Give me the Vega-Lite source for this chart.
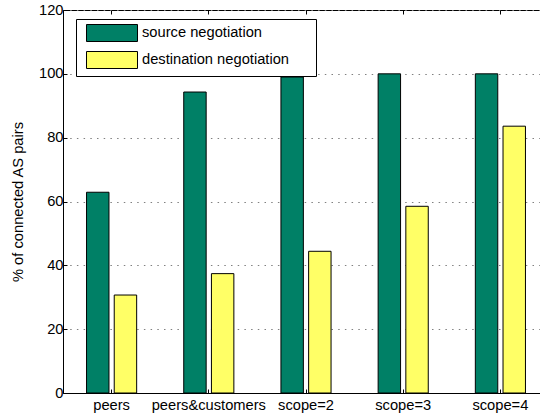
{
  "$schema": "https://vega.github.io/schema/vega-lite/v6.json",
  "autosize": "none",
  "width": 477,
  "height": 383,
  "padding": {"left": 63, "top": 10, "right": 0, "bottom": 22},
  "background": "white",
  "data": {
    "values": [
      {"category": "peers", "series": "source negotiation", "value": 62.9},
      {"category": "peers", "series": "destination negotiation", "value": 30.7},
      {"category": "peers&customers", "series": "source negotiation", "value": 94.3},
      {"category": "peers&customers", "series": "destination negotiation", "value": 37.4},
      {"category": "scope=2", "series": "source negotiation", "value": 99.0},
      {"category": "scope=2", "series": "destination negotiation", "value": 44.4},
      {"category": "scope=3", "series": "source negotiation", "value": 100},
      {"category": "scope=3", "series": "destination negotiation", "value": 58.5},
      {"category": "scope=4", "series": "source negotiation", "value": 100},
      {"category": "scope=4", "series": "destination negotiation", "value": 83.6}
    ]
  },
  "layer": [
    {
      "mark": {"type": "bar", "stroke": "black", "strokeWidth": 1},
      "encoding": {
        "x": {
          "field": "category", "type": "nominal", "sort": null,
          "scale": {"range": [0, 486], "paddingInner": 0, "paddingOuter": 0},
          "axis": {"orient": "bottom", "title": null, "labelAngle": 0, "tickSize": -4, "labelPadding": 8, "grid": false}
        },
        "xOffset": {
          "field": "series", "type": "nominal",
          "sort": ["source negotiation", "destination negotiation"],
          "scale": {"paddingInner": 0.19, "paddingOuter": 0.85}
        },
        "y": {
          "field": "value", "type": "quantitative",
          "scale": {"domain": [0, 120], "nice": false},
          "axis": {"title": "% of connected AS pairs", "values": [0, 20, 40, 60, 80, 100, 120], "tickSize": -4, "labelPadding": 4, "grid": true, "gridColor": "#808080", "gridDash": [1.5, 5.2], "gridWidth": 1, "titlePadding": 13}
        },
        "color": {
          "field": "series", "type": "nominal",
          "scale": {"domain": ["source negotiation", "destination negotiation"], "range": ["#008066", "#ffff66"]},
          "legend": {
            "orient": "none", "legendX": 13, "legendY": 9, "title": null,
            "strokeColor": "black", "fillColor": "white", "padding": 5,
            "symbolType": "M-3,-1H3V1H-3Z", "symbolSize": 289,
            "symbolStrokeColor": "black", "symbolStrokeWidth": 1, "symbolOpacity": 1,
            "symbolOffset": 22,
            "labelFontSize": 14.7, "labelFont": "Liberation Sans", "labelColor": "black",
            "labelOffset": 21, "labelLimit": 400, "rowPadding": 5,
            "labelExpr": "datum.label + '\u2800\u2800'"
          }
        }
      }
    },
    {
      "mark": {"type": "bar", "opacity": 0},
      "encoding": {
        "x": {
          "field": "category", "type": "nominal", "sort": null,
          "axis": {"orient": "top", "title": null, "labels": false, "tickSize": -4, "domain": false, "grid": false}
        },
        "y": {"field": "value", "type": "quantitative"}
      }
    }
  ],
  "resolve": {"axis": {"x": "independent"}},
  "config": {
    "view": {"stroke": "black", "strokeWidth": 1},
    "axis": {
      "domainColor": "black", "tickColor": "black", "labelColor": "black", "titleColor": "black",
      "labelFont": "Liberation Sans", "titleFont": "Liberation Sans",
      "labelFontSize": 14.7, "titleFontSize": 14.7, "titleFontWeight": "normal",
      "domainWidth": 1, "tickWidth": 1
    }
  }
}
